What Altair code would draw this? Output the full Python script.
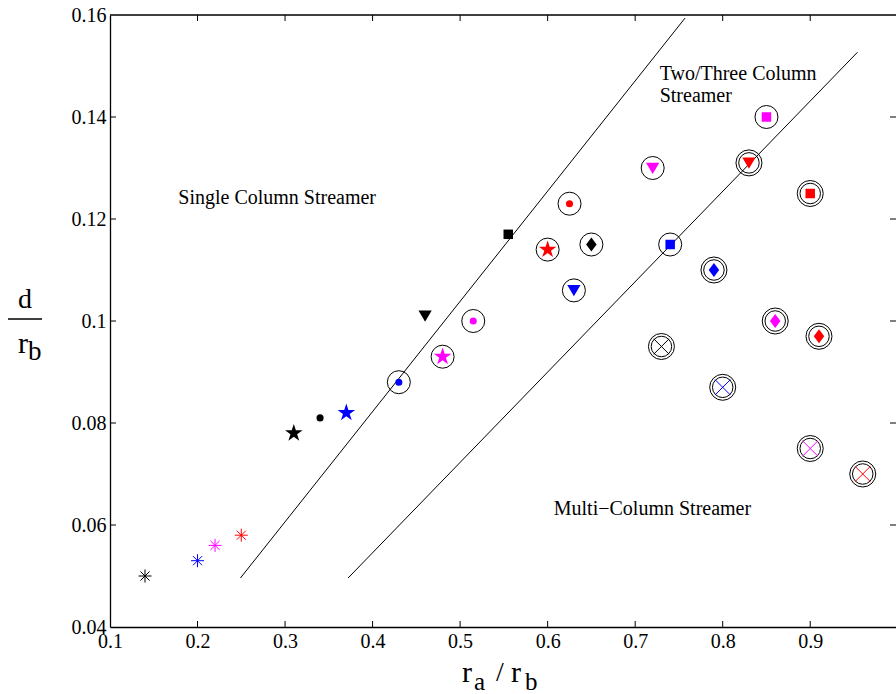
import math
import altair as alt
import pandas as pd

# ---- data ----
ra = [0.14, 0.20, 0.22, 0.25, 0.31, 0.34, 0.37, 0.43, 0.48, 0.46,
      0.515, 0.555, 0.60, 0.625, 0.65, 0.63, 0.72, 0.85, 0.83, 0.74,
      0.90, 0.79, 0.86, 0.91, 0.73, 0.80, 0.90, 0.96]
d_rb = [0.050, 0.053, 0.056, 0.058, 0.078, 0.081, 0.082, 0.088, 0.093, 0.101,
        0.100, 0.117, 0.114, 0.123, 0.115, 0.106, 0.130, 0.140, 0.131, 0.115,
        0.125, 0.110, 0.100, 0.097, 0.095, 0.087, 0.075, 0.070]
marker = ["asterisk", "asterisk", "asterisk", "asterisk", "star", "dot", "star", "dot", "star", "tri",
          "dot", "square", "star", "dot", "diamond", "tri", "tri", "square", "tri", "square",
          "square", "diamond", "diamond", "diamond", "x", "x", "x", "x"]
colour = ["black", "blue", "magenta", "red", "black", "black", "blue", "blue", "magenta", "black",
          "magenta", "black", "red", "red", "black", "blue", "magenta", "magenta", "red", "blue",
          "red", "blue", "magenta", "red", "black", "blue", "magenta", "red"]
rings = [0, 0, 0, 0, 0, 0, 0, 1, 1, 0,
         1, 0, 1, 1, 1, 1, 1, 1, 2, 1,
         2, 2, 2, 2, 2, 2, 2, 2]

line1_x = [0.249, 0.757]
line1_y = [0.0496, 0.1594]
line2_x = [0.372, 0.954]
line2_y = [0.0496, 0.1527]

x_ticks = [0.1, 0.2, 0.3, 0.4, 0.5, 0.6, 0.7, 0.8, 0.9]
y_ticks = [0.04, 0.06, 0.08, 0.1, 0.12, 0.14, 0.16]

labels = ["Single Column Streamer", "Two/Three Column", "Streamer", "Multi\u2212Column Streamer"]
label_x = [0.178, 0.728, 0.728, 0.607]
label_y = [0.1229, 0.14725, 0.1430, 0.0620]

# ---- styling ----
W, H = 786, 612
FONT = "Liberation Serif"

pts = []
for k in range(10):
    r = 1.0 if k % 2 == 0 else 0.382
    a = -math.pi / 2 + k * math.pi / 5
    pts.append(f"{r * math.cos(a):.3f},{r * math.sin(a):.3f}")
STAR = "M" + "L".join(pts) + "Z"
shape_path = {
    "star": STAR,
    "dot": "circle",
    "square": "square",
    "tri": "M-1,-0.8L1,-0.8L0,0.9Z",
    "diamond": "M0,-1L0.75,0L0,1L-0.75,0Z",
    "asterisk": "M-1,0L1,0M0,-1L0,1M-0.7,-0.7L0.7,0.7M-0.7,0.7L0.7,-0.7",
    "x": "M-0.75,-0.75L0.75,0.75M-0.75,0.75L0.75,-0.75",
}
shape_size = {"star": 340, "dot": 50, "square": 90, "tri": 175,
              "diamond": 196, "asterisk": 169, "x": 420}

df = pd.DataFrame({"x": ra, "y": d_rb, "marker": marker, "col": colour, "rings": rings})
df["shp"] = df["marker"].map(shape_path)
df["sz"] = df["marker"].map(shape_size)

xscale = alt.Scale(domain=[0.1, 0.998], nice=False, zero=False)
yscale = alt.Scale(domain=[0.04, 0.16], nice=False, zero=False)
xaxis = alt.Axis(values=x_ticks, format=".1f", title=None, grid=False, ticks=False,
                 domainColor="black", domainWidth=1.3, labelFont=FONT, labelFontSize=20,
                 labelColor="black", labelPadding=4, labelFlush=False, labelOverlap=False)
yaxis = alt.Axis(values=y_ticks, format="~g", title=None, grid=False, ticks=False,
                 domainColor="black", domainWidth=1.3, labelFont=FONT, labelFontSize=20,
                 labelColor="black", labelPadding=4, labelFlush=False, labelOverlap=False)

X = lambda f="x": alt.X(f"{f}:Q", scale=xscale, axis=xaxis)
Y = lambda f="y": alt.Y(f"{f}:Q", scale=yscale, axis=yaxis)

base = alt.Chart(df)

ring1 = base.transform_filter("datum.rings == 1").mark_point(
    shape="circle", filled=False, color="black", strokeWidth=1, size=529, opacity=1
).encode(x=X(), y=Y())
ring2o = base.transform_filter("datum.rings == 2").mark_point(
    shape="circle", filled=False, color="black", strokeWidth=1, size=676, opacity=1
).encode(x=X(), y=Y())
ring2i = base.transform_filter("datum.rings == 2").mark_point(
    shape="circle", filled=False, color="black", strokeWidth=1, size=420, opacity=1
).encode(x=X(), y=Y())

filled = base.transform_filter(
    "datum.marker != 'asterisk' && datum.marker != 'x'"
).mark_point(filled=True, opacity=1, strokeWidth=0).encode(
    x=X(), y=Y(),
    shape=alt.Shape("shp:N", scale=None),
    size=alt.Size("sz:Q", scale=None),
    color=alt.Color("col:N", scale=None),
)
stroked = base.transform_filter(
    "datum.marker == 'asterisk' || datum.marker == 'x'"
).mark_point(filled=False, opacity=1, strokeWidth=1).encode(
    x=X(), y=Y(),
    shape=alt.Shape("shp:N", scale=None),
    size=alt.Size("sz:Q", scale=None),
    color=alt.Color("col:N", scale=None),
)

lines_df = pd.DataFrame({
    "x": line1_x + line2_x,
    "y": line1_y + line2_y,
    "g": ["a", "a", "b", "b"],
})
lines = alt.Chart(lines_df).mark_line(color="black", strokeWidth=1).encode(
    x=X(), y=Y(), detail="g:N"
)

text_df = pd.DataFrame({"x": label_x, "y": label_y, "t": labels})
texts = alt.Chart(text_df).mark_text(
    font=FONT, fontSize=20, align="left", baseline="alphabetic", color="black"
).encode(x=X(), y=Y(), text="t:N")

# inward tick marks on all four sides
xt_df = pd.DataFrame({"x": x_ticks[1:]})
yt_df = pd.DataFrame({"y": y_ticks[1:-1]})
tk = dict(color="black", strokeWidth=1)
tick_b = alt.Chart(xt_df).mark_rule(**tk).encode(x=X(), y=alt.value(H), y2=alt.value(H - 6))
tick_t = alt.Chart(xt_df).mark_rule(**tk).encode(x=X(), y=alt.value(0), y2=alt.value(6))
tick_l = alt.Chart(yt_df).mark_rule(**tk).encode(y=Y(), x=alt.value(0), x2=alt.value(6))
tick_r = alt.Chart(yt_df).mark_rule(**tk).encode(y=Y(), x=alt.value(W), x2=alt.value(W - 6))
top_border = alt.Chart(pd.DataFrame({"k": [0]})).mark_rule(color="black", strokeWidth=1.3).encode(
    x=alt.value(0), x2=alt.value(W + 2), y=alt.value(0)
)

# axis titles built from text pieces (with subscripts)
def txt(s, x, y, size, align="left"):
    return alt.Chart(pd.DataFrame({"t": [s]})).mark_text(
        font=FONT, fontSize=size, align=align, baseline="alphabetic", color="black"
    ).encode(x=alt.value(x), y=alt.value(y), text="t:N")

xtitle = [
    txt("r", 352, 667, 30),
    txt("a", 364, 675, 25),
    txt("/", 386, 666, 28),
    txt("r", 401, 667, 30),
    txt("b", 415, 675, 25),
]
ytitle = [
    txt("d", -85, 293, 28, "center"),
    txt("r", -92, 338, 30),
    txt("b", -82, 345, 27),
]
frac = alt.Chart(pd.DataFrame({"k": [0]})).mark_rule(color="black", strokeWidth=1.5).encode(
    x=alt.value(-102), x2=alt.value(-68), y=alt.value(304)
)

chart = alt.layer(
    lines, ring1, ring2o, ring2i, filled, stroked, texts,
    tick_b, tick_t, tick_l, tick_r, top_border, frac, *xtitle, *ytitle
).properties(
    width=W, height=H,
    padding={"left": 110, "top": 15, "right": 0, "bottom": 67},
    autosize=alt.AutoSizeParams(type="none"),
    background="white",
).configure_view(stroke=None)

chart.save("out.html", embed_options={"renderer": "svg", "actions": False})
